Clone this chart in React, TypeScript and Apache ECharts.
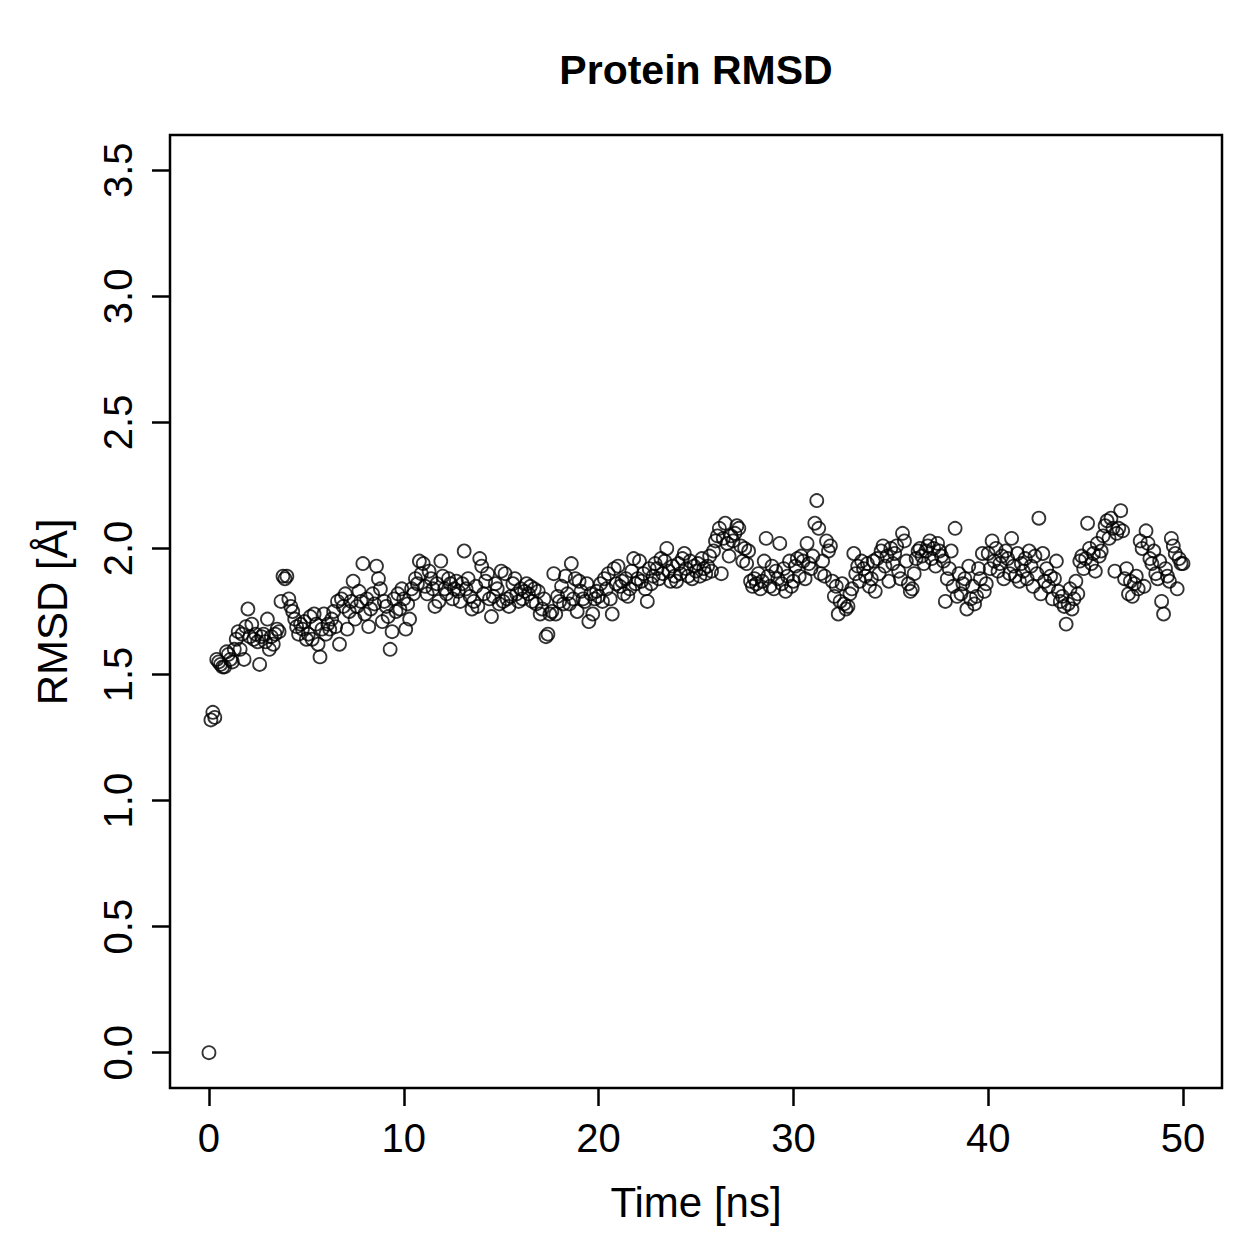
import React, { useEffect, useRef } from "react";
import * as echarts from "echarts";

// Sampling step of the trajectory (ns)
const TIME_STEP = 0.1;

// Backbone RMSD (Å), one row per nanosecond of simulation
const rmsdNs00to09 = [
  0.0, 1.32, 1.35, 1.33, 1.56, 1.55, 1.54, 1.53, 1.53, 1.59,
  1.58, 1.56, 1.55, 1.6, 1.64, 1.67, 1.6, 1.66, 1.56, 1.69,
  1.76, 1.65, 1.7, 1.64, 1.66, 1.63, 1.54, 1.65, 1.66, 1.63,
  1.72, 1.6, 1.65, 1.62, 1.66, 1.68, 1.67, 1.79, 1.89, 1.88,
  1.89, 1.8, 1.77, 1.75, 1.72, 1.69, 1.66, 1.7, 1.68, 1.71,
  1.64, 1.66, 1.73, 1.64, 1.74, 1.7, 1.62, 1.57, 1.68, 1.74,
  1.66, 1.7, 1.68, 1.72, 1.75, 1.69, 1.79, 1.62, 1.8, 1.77,
  1.82, 1.68, 1.75, 1.79, 1.87, 1.72, 1.77, 1.83, 1.79, 1.94,
  1.74, 1.8, 1.69, 1.76, 1.82, 1.78, 1.93, 1.88, 1.84, 1.71,
  1.79, 1.77, 1.73, 1.6, 1.67, 1.8, 1.75, 1.82, 1.76, 1.84,
];
const rmsdNs10to19 = [
  1.8, 1.68, 1.78, 1.72, 1.84, 1.82, 1.88, 1.86, 1.95, 1.9,
  1.94, 1.85, 1.82, 1.91, 1.88, 1.84, 1.77, 1.86, 1.79, 1.95,
  1.89, 1.84, 1.82, 1.88, 1.86, 1.8, 1.84, 1.87, 1.83, 1.79,
  1.86, 1.99, 1.84, 1.88, 1.81, 1.76, 1.79, 1.85, 1.77, 1.96,
  1.93, 1.82, 1.87, 1.9, 1.8, 1.73, 1.81, 1.86, 1.84, 1.78,
  1.91, 1.79, 1.9, 1.8, 1.77, 1.81, 1.86, 1.88, 1.82, 1.79,
  1.84, 1.8, 1.83, 1.86, 1.82, 1.85, 1.79, 1.84, 1.78, 1.83,
  1.74, 1.76, 1.8, 1.65, 1.66, 1.74, 1.75, 1.9, 1.74, 1.81,
  1.79, 1.85, 1.78, 1.89, 1.82, 1.78, 1.94, 1.8, 1.88, 1.75,
  1.87, 1.83, 1.8, 1.79, 1.86, 1.71, 1.82, 1.74, 1.8, 1.83,
];
const rmsdNs20to29 = [
  1.81, 1.86, 1.79, 1.88, 1.84, 1.9, 1.8, 1.74, 1.92, 1.86,
  1.93, 1.85, 1.87, 1.82, 1.88, 1.81, 1.84, 1.91, 1.96, 1.86,
  1.88, 1.95, 1.87, 1.9, 1.84, 1.79, 1.92, 1.86, 1.89, 1.94,
  1.92, 1.88, 1.96, 1.9, 1.95, 2.0, 1.91, 1.87, 1.93, 1.89,
  1.87, 1.94, 1.9, 1.96, 1.98, 1.92, 1.89, 1.95, 1.88, 1.93,
  1.91, 1.94, 1.89, 1.96, 1.92, 1.9, 1.93, 1.97, 1.91, 1.99,
  2.03, 2.05, 2.08, 1.9, 2.04, 2.1, 2.02, 1.97, 2.05, 2.03,
  2.06, 2.09, 2.08, 2.01, 1.95, 2.0, 1.94, 1.99, 1.87, 1.85,
  1.88, 1.86, 1.9, 1.84, 1.87, 1.95, 2.04, 1.89, 1.85, 1.93,
  1.84, 1.91, 1.88, 2.02, 1.86, 1.92, 1.83, 1.89, 1.95, 1.85,
];
const rmsdNs30to39 = [
  1.87, 1.93, 1.96, 1.89, 1.97, 1.95, 1.88, 2.02, 1.94, 1.92,
  1.97, 2.1, 2.19, 2.08, 1.9, 1.95, 1.89, 2.03, 1.99, 2.01,
  1.87, 1.81, 1.85, 1.74, 1.79, 1.86, 1.78, 1.76, 1.77, 1.82,
  1.84, 1.98, 1.9, 1.93, 1.87, 1.95, 1.92, 1.89, 1.94, 1.85,
  1.88, 1.95, 1.83, 1.96, 1.9, 1.99, 2.01, 1.93, 1.97, 1.87,
  2.0, 1.94, 1.98, 2.01, 1.91, 1.88, 2.06, 2.03, 1.95, 1.86,
  1.83, 1.84, 1.9, 1.96, 1.99, 2.0, 1.97, 1.94, 1.99, 2.01,
  2.03, 1.96, 2.0, 1.93, 2.02, 1.99, 1.97, 1.95, 1.79, 1.88,
  1.92, 1.99, 1.85, 2.08, 1.81, 1.9, 1.82, 1.86, 1.88, 1.76,
  1.93, 1.8, 1.85, 1.78, 1.81, 1.92, 1.88, 1.98, 1.83, 1.86,
];
const rmsdNs40to50 = [
  1.98, 1.92, 2.03, 1.95, 2.0, 1.91, 1.94, 1.97, 1.88, 1.99,
  1.96, 1.9, 2.04, 1.93, 1.89, 1.98, 1.87, 1.94, 1.91, 1.96,
  1.88, 1.99, 1.93, 1.85, 1.97, 1.9, 2.12, 1.82, 1.98, 1.87,
  1.92, 1.85, 1.89, 1.8, 1.88, 1.95, 1.83, 1.79, 1.81, 1.77,
  1.7, 1.78, 1.84, 1.76, 1.8, 1.87, 1.82, 1.95, 1.97, 1.92,
  1.96, 2.1, 2.0, 1.94, 1.98, 1.91, 2.02, 1.97, 1.99, 2.05,
  2.09, 2.11, 2.04, 2.12, 2.08, 1.91, 2.06, 2.08, 2.15, 2.07,
  1.88, 1.92, 1.82, 1.87, 1.81, 1.86, 1.89, 1.84, 2.03, 2.0,
  1.85, 2.07, 2.02, 1.96, 1.94, 1.99, 1.9, 1.88, 1.95, 1.79,
  1.74, 1.92, 1.89, 1.87, 2.04, 2.01, 1.98, 1.84, 1.96, 1.94,
  1.94,
];

const rmsd = [
  ...rmsdNs00to09,
  ...rmsdNs10to19,
  ...rmsdNs20to29,
  ...rmsdNs30to39,
  ...rmsdNs40to50,
];

const xTicks = [0, 10, 20, 30, 40, 50];
const yTicks = [0, 0.5, 1, 1.5, 2, 2.5, 3, 3.5];

const FONT = "'Liberation Sans', Arial, Helvetica, sans-serif";

export default function App() {
  const ref = useRef<HTMLDivElement>(null);

  useEffect(() => {
    if (!ref.current) return;
    const chart = echarts.init(ref.current, null, { renderer: "svg" });

    const points = rmsd.map((v, i) => [Math.round(i * TIME_STEP * 10) / 10, v]);

    const tickStyle = { color: "#000", width: 2.5 };

    chart.setOption({
      animation: false,
      backgroundColor: "#ffffff",
      grid: {
        left: 170,
        top: 135,
        width: 1052,
        height: 953,
        show: true,
        borderColor: "#000",
        borderWidth: 2.5,
        backgroundColor: "transparent",
      },
      xAxis: {
        type: "value",
        min: -2,
        max: 52,
        splitLine: { show: false },
        axisLine: { show: false, onZero: false },
        axisTick: {
          show: true,
          inside: false,
          customValues: xTicks,
          length: 18,
          lineStyle: tickStyle,
        },
        axisLabel: {
          customValues: xTicks,
          color: "#000",
          fontFamily: FONT,
          fontSize: 40,
          margin: 30,
          formatter: (v: number) => String(v),
        },
      },
      yAxis: {
        type: "value",
        min: -0.14,
        max: 3.64,
        splitLine: { show: false },
        axisLine: { show: false, onZero: false },
        axisTick: {
          show: true,
          inside: false,
          customValues: yTicks,
          length: 18,
          lineStyle: tickStyle,
        },
        axisLabel: {
          customValues: yTicks,
          color: "#000",
          fontFamily: FONT,
          fontSize: 40,
          margin: 32,
          rotate: 90,
          formatter: (v: number) => v.toFixed(1),
        },
      },
      series: [
        {
          type: "scatter",
          data: points,
          symbol: "circle",
          symbolSize: 13,
          progressive: 0,
          itemStyle: {
            color: "rgba(0,0,0,0)",
            borderColor: "#000",
            borderWidth: 1.8,
          },
          emphasis: { disabled: true },
          silent: true,
        },
      ],
      graphic: [
        {
          type: "text",
          x: 696,
          y: 70,
          style: {
            text: "Protein RMSD",
            font: `bold 41px ${FONT}`,
            fill: "#000",
            align: "center",
            verticalAlign: "middle",
          },
        },
        {
          type: "text",
          x: 696,
          y: 1202,
          style: {
            text: "Time [ns]",
            font: `42px ${FONT}`,
            fill: "#000",
            align: "center",
            verticalAlign: "middle",
          },
        },
        {
          type: "text",
          x: 52,
          y: 612,
          rotation: Math.PI / 2,
          style: {
            text: "RMSD [Å]",
            font: `42px ${FONT}`,
            fill: "#000",
            align: "center",
            verticalAlign: "middle",
          },
        },
      ],
    });

    return () => chart.dispose();
  }, []);

  return (
    <div
      ref={ref}
      style={{ position: "absolute", left: 0, top: 0, width: 1259, height: 1259 }}
    />
  );
}
